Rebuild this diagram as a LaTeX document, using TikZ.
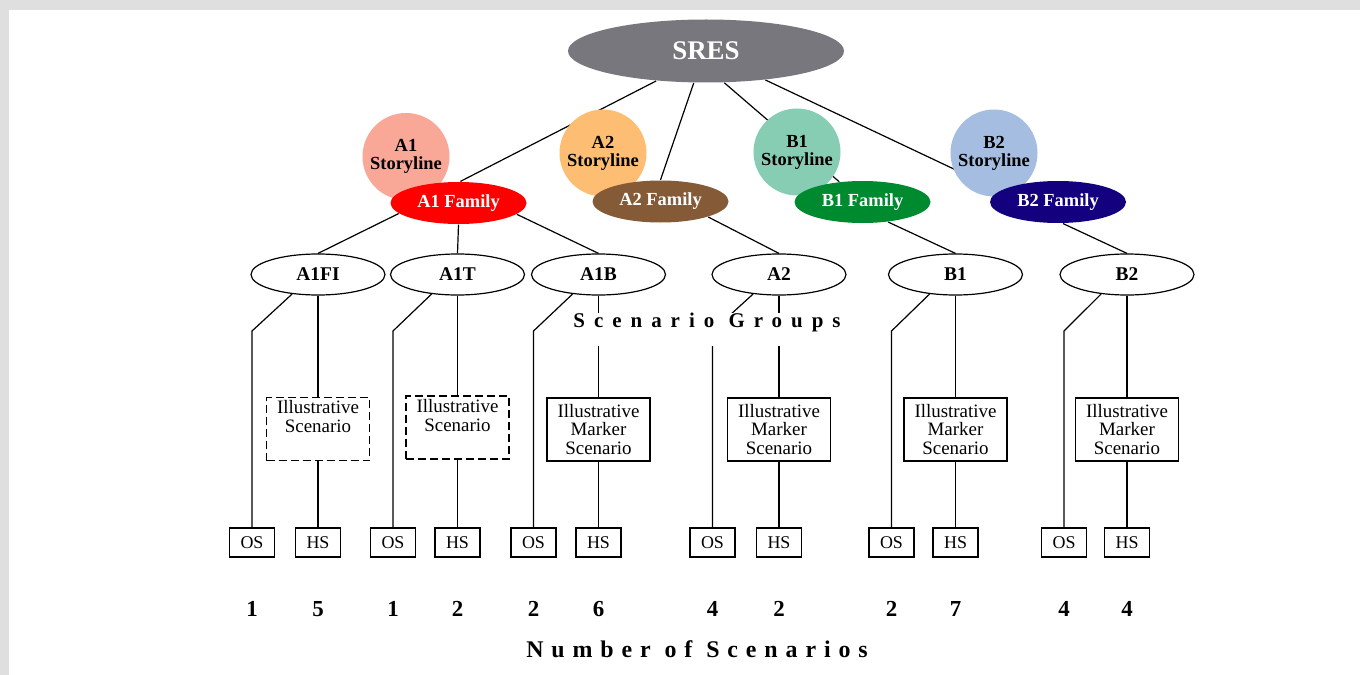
\documentclass[tikz,border=0pt]{standalone}
\usepackage{fontspec}
\setmainfont{Liberation Serif}
\usetikzlibrary{shapes.geometric,backgrounds}

\definecolor{bggray}{RGB}{223,223,223}
\definecolor{sresgray}{RGB}{120,119,126}
\definecolor{aonelight}{RGB}{249,167,150}
\definecolor{atwolight}{RGB}{253,190,116}
\definecolor{bonelight}{RGB}{134,205,180}
\definecolor{btwolight}{RGB}{164,189,224}
\definecolor{atwofam}{RGB}{133,91,55}
\definecolor{bonefam}{RGB}{0,138,48}
\definecolor{btwofam}{RGB}{19,0,127}

\begin{document}
\begin{tikzpicture}[x=1bp, y=-1bp, line width=1.2bp,
  root/.style={ellipse, fill=sresgray, text=white, minimum width=276bp, minimum height=63bp, inner sep=0pt, font=\fontsize{27}{27}\selectfont\bfseries},
  story/.style={circle, minimum size=87bp, inner sep=0pt, align=center, font=\fontsize{18.5}{18}\selectfont\bfseries},
  fam/.style={ellipse, text=white, minimum width=136bp, minimum height=42bp, inner sep=0pt, font=\fontsize{18.5}{18.5}\selectfont\bfseries},
  grp/.style={ellipse, draw, fill=white, minimum width=134bp, minimum height=41bp, inner sep=0pt, font=\fontsize{19.5}{19.5}\selectfont\bfseries},
  illus/.style={rectangle, draw, fill=white, minimum width=103bp, minimum height=63bp, inner sep=0pt, align=center, font=\fontsize{19}{19}\selectfont},
  tentative/.style={illus, dash pattern=on 8bp off 4bp},
  leaf/.style={rectangle, draw, fill=white, minimum width=45bp, minimum height=29bp, inner sep=0pt, font=\fontsize{18}{18}\selectfont},
  numlabel/.style={anchor=base, inner sep=0pt, font=\fontsize{23}{23}\selectfont\bfseries},
  axislabel/.style={anchor=base, fill=white, inner sep=0pt}]

    \useasboundingbox (0,0) rectangle (1360,675);

    \node[root] (S) at (706, 51) {SRES};

    % storylines and families
    \node[story, fill=aonelight] (A1s) at (406, 156.5) {A1\\Storyline};
    \node[story, fill=atwolight] (A2s) at (603, 153) {A2\\Storyline};
    \node[story, fill=bonelight] (B1s) at (797, 152) {B1\\Storyline};
    \node[story, fill=btwolight] (B2s) at (994, 153) {B2\\Storyline};

    \node[fam, fill=red] (A1f) at (458.5, 203) {A1 Family};
    \node[fam, fill=atwofam] (A2f) at (660.5, 201.5) {A2 Family};
    \node[fam, fill=bonefam] (B1f) at (862.5, 202) {B1 Family};
    \node[fam, fill=btwofam] (B2f) at (1058, 202) {B2 Family};

    % scenario groups
    \node[grp] (G1) at (318, 274.5) {A1FI};
    \node[grp] (G2) at (457.5, 274.5) {A1T};
    \node[grp] (G3) at (598.5, 274.5) {A1B};
    \node[grp] (G4) at (779, 274.5) {A2};
    \node[grp] (G5) at (955.5, 274.5) {B1};
    \node[grp] (G6) at (1127, 274.5) {B2};

    \node[tentative] (I1) at (318, 429) {Illustrative\\Scenario\\\strut};
    \node[tentative] (I2) at (457.5, 427.5) {Illustrative\\Scenario\\\strut};
    \node[illus] (I3) at (598.5, 429.5) {Illustrative\\Marker\\Scenario};
    \node[illus] (I4) at (779, 429.5) {Illustrative\\Marker\\Scenario};
    \node[illus] (I5) at (955.5, 429.5) {Illustrative\\Marker\\Scenario};
    \node[illus] (I6) at (1127, 429.5) {Illustrative\\Marker\\Scenario};

    \node[leaf] (O1) at (252, 542.5) {OS};
    \node[leaf] (H1) at (318, 542.5) {HS};
    \node[leaf] (O2) at (393, 542.5) {OS};
    \node[leaf] (H2) at (457.5, 542.5) {HS};
    \node[leaf] (O3) at (533.5, 542.5) {OS};
    \node[leaf] (H3) at (598.5, 542.5) {HS};
    \node[leaf] (O4) at (712.5, 542.5) {OS};
    \node[leaf] (H4) at (779, 542.5) {HS};
    \node[leaf] (O5) at (891.5, 542.5) {OS};
    \node[leaf] (H5) at (955.5, 542.5) {HS};
    \node[leaf] (O6) at (1064, 542.5) {OS};
    \node[leaf] (H6) at (1127, 542.5) {HS};

    \coordinate (bend) at (0, 331);

    % lines
    \begin{scope}[on background layer={line width=1.2bp}]
      \fill[bggray] (0,0) rectangle (1360,675);
      \fill[white] (9,10) rectangle (1360,675);

      \draw (S.211.5) -- (A1f.85);
      \draw (S.249) -- (A2f.north);
      \draw (S.300) -- (B1f.139);
      \draw (S.334) -- (B2f.169);

      \draw (A1f.190) -- (G1.north);
      \draw (A1f.south) -- (G2.north);
      \draw (A1f.349) -- (G3.north);
      \draw (A2f.342) -- (G4.north);
      \draw (B1f.322) -- (G5.north);
      \draw (B2f.283) -- (G6.north);

      \draw (G1.217) -- (O1.north |- bend) -- (O1.north);
      \draw (G2.217) -- (O2.north |- bend) -- (O2.north);
      \draw (G3.217) -- (O3.north |- bend) -- (O3.north);
      \draw (G4.217) -- (O4.north |- bend) -- (O4.north);
      \draw (G5.217) -- (O5.north |- bend) -- (O5.north);
      \draw (G6.217) -- (O6.north |- bend) -- (O6.north);

      \draw (G1.south) -- (I1.north) (I1.south) -- (H1.north);
      \draw (G2.south) -- (I2.north) (I2.south) -- (H2.north);
      \draw (G3.south) -- (I3.north) (I3.south) -- (H3.north);
      \draw (G4.south) -- (I4.north) (I4.south) -- (H4.north);
      \draw (G5.south) -- (I5.north) (I5.south) -- (H5.north);
      \draw (G6.south) -- (I6.north) (I6.south) -- (H6.north);
    \end{scope}

    \node[axislabel, text height=14bp, text depth=19bp, font=\fontsize{21}{21}\selectfont\bfseries\addfontfeatures{LetterSpace=43}] (SG) at (707, 327) {Scenario Groups};

    % number of scenarios
    \node[numlabel] (N1) at (252, 616) {1};
    \node[numlabel] (N2) at (318, 616) {5};
    \node[numlabel] (N3) at (393, 616) {1};
    \node[numlabel] (N4) at (457.5, 616) {2};
    \node[numlabel] (N5) at (533.5, 616) {2};
    \node[numlabel] (N6) at (598.5, 616) {6};
    \node[numlabel] (N7) at (712.5, 616) {4};
    \node[numlabel] (N8) at (779, 616) {2};
    \node[numlabel] (N9) at (891.5, 616) {2};
    \node[numlabel] (N10) at (955.5, 616) {7};
    \node[numlabel] (N11) at (1064, 616) {4};
    \node[numlabel] (N12) at (1127, 616) {4};

    \node[axislabel, font=\fontsize{24}{24}\selectfont\bfseries\addfontfeatures{LetterSpace=33}] (NS) at (697, 657) {Number of Scenarios};

  \end{tikzpicture}
\end{document}
